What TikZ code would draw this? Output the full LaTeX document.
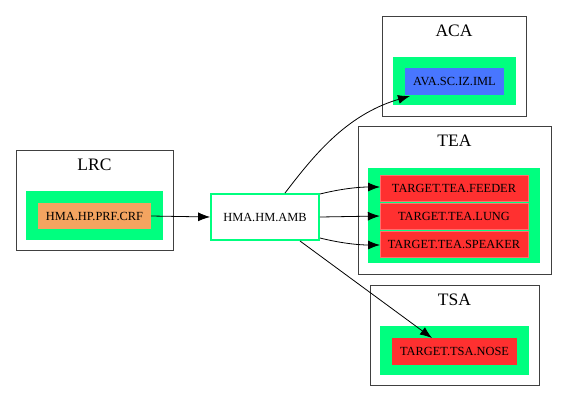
\documentclass[tikz,border=0pt]{standalone}
\usepackage{fontspec}
\setmainfont{Liberation Serif}
\usetikzlibrary{arrows.meta}
\definecolor{sgreen}{HTML}{00FF7F}
\definecolor{sorange}{HTML}{F4A460}
\definecolor{sblue}{HTML}{4876FF}
\definecolor{sred}{HTML}{FF3030}
\begin{document}
\begin{tikzpicture}[x=1bp,y=-1bp,
  cluster/.style={draw=black!75,line width=0.9bp},
  inner/.style={fill=sgreen},
  nodebox/.style={draw=none,inner sep=0pt,font=\fontsize{12.4bp}{14bp}\selectfont},
  title/.style={font=\fontsize{17.5bp}{20bp}\selectfont},
  arr/.style={-{Latex[length=12bp,width=9bp]},line width=0.8bp}]
\useasboundingbox (0,0) rectangle (567,401);
% clusters
\draw[cluster] (16,150) rectangle (173,250);
\node[title] (tLRC) at (94.5,165) {LRC};
\fill[inner] (26,191) rectangle (163,240);
\draw[cluster] (382,16) rectangle (526,116);
\node[title] (tACA) at (454,31) {ACA};
\fill[inner] (393,57) rectangle (516,105);
\draw[cluster] (358,126) rectangle (551,274);
\node[title] (tTEA) at (454.5,141) {TEA};
\fill[inner] (368,168) rectangle (540,263);
\draw[cluster] (370,285) rectangle (539,385);
\node[title] (tTSA) at (454.5,300) {TSA};
\fill[inner] (380,326) rectangle (529,375);
% nodes
\node[nodebox,fill=sorange,minimum width=113bp,minimum height=26bp] (crf) at (94.5,216) {HMA.HP.PRF.CRF};
\node[nodebox,fill=white,draw=sgreen,line width=1.8bp,minimum width=108bp,minimum height=46bp] (amb) at (265,217) {HMA.HM.AMB};
\node[nodebox,fill=sblue,minimum width=99bp,minimum height=27bp] (iml) at (454.5,81.5) {AVA.SC.IZ.IML};
\node[nodebox,fill=sred,draw=sred!70!white,minimum width=148bp,minimum height=26bp] (feeder) at (454,188) {TARGET.TEA.FEEDER};
\node[nodebox,fill=sred,draw=sred!70!white,minimum width=148bp,minimum height=26bp] (lung) at (454,216) {TARGET.TEA.LUNG};
\node[nodebox,fill=sred,draw=sred!70!white,minimum width=148bp,minimum height=26bp] (speaker) at (454,244) {TARGET.TEA.SPEAKER};
\node[nodebox,fill=sred,minimum width=125bp,minimum height=27bp] (nose) at (454.5,351.5) {TARGET.TSA.NOSE};
% edge end points
\coordinate (ambN) at (285,193);
\coordinate (ambNE) at (320,194);
\coordinate (ambSE) at (320,238);
\coordinate (ambS) at (300,241);
\coordinate (imlIn) at (410,96);
\coordinate (feedIn) at (380,187);
\coordinate (speakIn) at (380,245);
\coordinate (noseIn) at (432,338);
% edges
\draw[arr] (crf.east) -- (amb.west);
\draw[arr] (ambN) .. controls (312,158) and (345,115) .. (imlIn);
\draw[arr] (ambNE) .. controls (340,189) and (358,187) .. (feedIn);
\draw[arr] (amb.east) -- (lung.west);
\draw[arr] (ambSE) .. controls (340,243) and (358,245) .. (speakIn);
\draw[arr] (ambS) -- (noseIn);
\end{tikzpicture}
\end{document}
